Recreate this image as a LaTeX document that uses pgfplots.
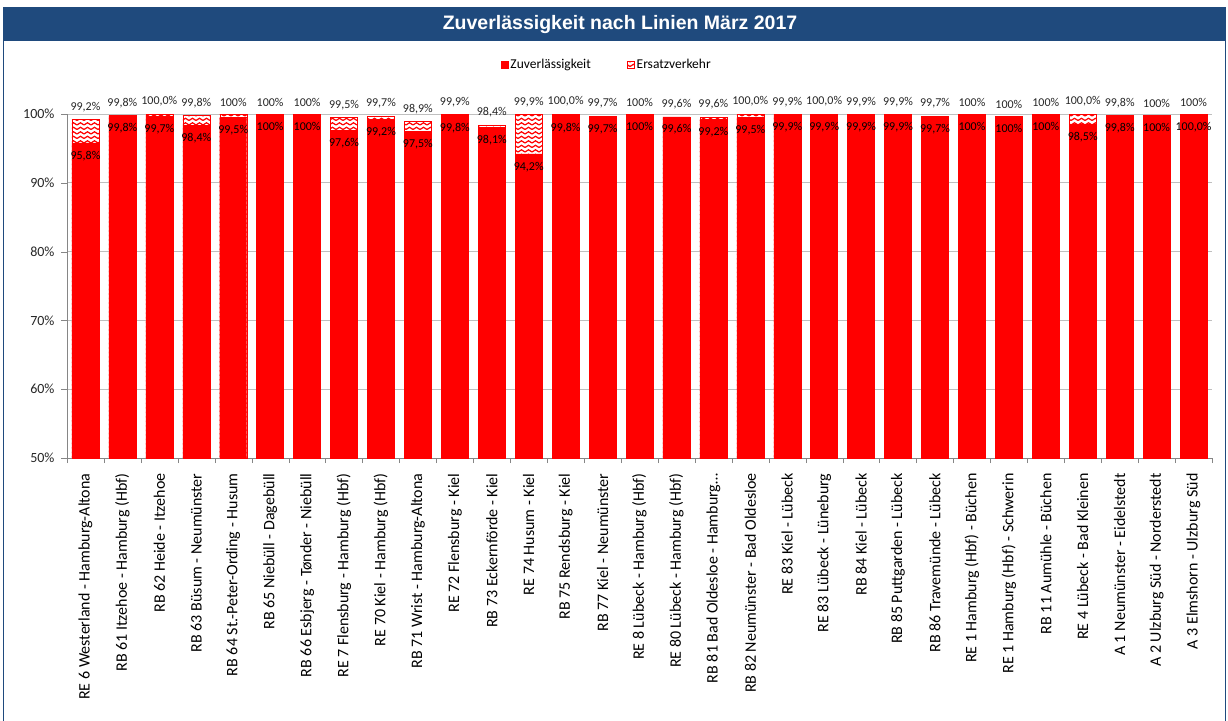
\documentclass[border=0pt]{standalone}
\usepackage{fontspec}
\setmainfont{Carlito}
\newfontfamily\titlefont{Liberation Sans}
\usepackage{pgfplots}
\pgfplotsset{compat=1.18}
\usepackage{pgfplotstable}
\usetikzlibrary{patterns}

\definecolor{bandblue}{HTML}{1F4A7D}
\definecolor{axgray}{HTML}{868686}
\definecolor{gridgray}{HTML}{BFBFBF}
\definecolor{barred}{HTML}{FF0000}

\pgfdeclarepatternformonly{zigzag}{\pgfqpoint{-1pt}{-1pt}}{\pgfqpoint{8pt}{5pt}}{\pgfqpoint{7pt}{4.5pt}}{%
  \pgfsetlinewidth{1.2pt}%
  \pgfpathmoveto{\pgfqpoint{0pt}{1pt}}%
  \pgfpathlineto{\pgfqpoint{3.5pt}{3.2pt}}%
  \pgfpathlineto{\pgfqpoint{7pt}{1pt}}%
  \pgfusepath{stroke}}

\pgfplotstableread{
x zuv tot zl tl
0 95.8 99.2 95,8\% 99,2\%
1 99.8 99.8 99,8\% 99,8\%
2 99.7 100 99,7\% 100,0\%
3 98.4 99.8 98,4\% 99,8\%
4 99.5 100 99,5\% 100\%
5 100 100 100\% 100\%
6 100 100 100\% 100\%
7 97.6 99.5 97,6\% 99,5\%
8 99.2 99.7 99,2\% 99,7\%
9 97.5 98.9 97,5\% 98,9\%
10 99.8 99.9 99,8\% 99,9\%
11 98.1 98.4 98,1\% 98,4\%
12 94.2 99.9 94,2\% 99,9\%
13 99.8 100 99,8\% 100,0\%
14 99.7 99.7 99,7\% 99,7\%
15 100 100 100\% 100\%
16 99.6 99.6 99,6\% 99,6\%
17 99.2 99.6 99,2\% 99,6\%
18 99.5 100 99,5\% 100,0\%
19 99.9 99.9 99,9\% 99,9\%
20 99.9 100 99,9\% 100,0\%
21 99.9 99.9 99,9\% 99,9\%
22 99.9 99.9 99,9\% 99,9\%
23 99.7 99.7 99,7\% 99,7\%
24 100 100 100\% 100\%
25 99.7 99.7 100\% 100\%
26 100 100 100\% 100\%
27 98.5 100 98,5\% 100,0\%
28 99.8 99.8 99,8\% 99,8\%
29 99.8 99.8 100\% 100\%
30 100 100 100,0\% 100\%
}\data

\begin{document}
\begin{tikzpicture}[x=1pt,y=1pt]
\useasboundingbox (0,0) rectangle (1228,720);
% frame and title band
\fill[bandblue] (3,679) rectangle (1226,712);
\draw[bandblue,line width=1.5pt] (3.5,-5) -- (3.5,712) -- (1225.5,712) -- (1225.5,-5);
\node[text=white,font=\titlefont\bfseries\fontsize{19.5}{22}\selectfont] at (620,695.5) {Zuverlässigkeit nach Linien März 2017};

\begin{axis}[
  at={(67pt,262pt)}, anchor=south west,
  scale only axis, width=1145pt, height=344pt,
  xmin=-0.5, xmax=30.5, ymin=50, ymax=100,
  axis x line*=bottom, axis y line*=left,
  axis line style={axgray},
  ytick={50,60,70,80,90,100},
  yticklabels={50\%,60\%,70\%,80\%,90\%,100\%},
  ymajorgrids, major grid style={gridgray,line width=0.9pt},
  tick align=outside,
  major tick length=6pt, minor tick length=5pt,
  xtick={0,...,30},
  minor xtick={-0.5,0.5,...,30.5},
  major x tick style={draw=none},
  minor x tick style={axgray},
  ytick style={axgray},
  yticklabel style={font=\fontsize{14}{16}\selectfont, text=black!85, xshift=-3pt},
  xticklabel style={rotate=90, anchor=east, font=\fontsize{16}{18}\selectfont, text=black},
  xticklabel shift=6pt,
  xticklabels={
    {RE 6 Westerland - Hamburg-Altona},
    {RB 61 Itzehoe - Hamburg (Hbf)},
    {RB 62 Heide - Itzehoe},
    {RB 63 Büsum - Neumünster},
    {RB 64 St.-Peter-Ording - Husum},
    {RB 65 Niebüll - Dagebüll},
    {RB 66 Esbjerg - Tønder - Niebüll},
    {RE 7 Flensburg - Hamburg (Hbf)},
    {RE 70 Kiel - Hamburg (Hbf)},
    {RB 71 Wrist - Hamburg-Altona},
    {RE 72 Flensburg - Kiel},
    {RB 73 Eckernförde - Kiel},
    {RE 74 Husum - Kiel},
    {RB 75 Rendsburg - Kiel},
    {RB 77 Kiel - Neumünster},
    {RE 8 Lübeck - Hamburg (Hbf)},
    {RE 80 Lübeck - Hamburg (Hbf)},
    {RB 81 Bad Oldesloe - Hamburg…},
    {RB 82 Neumünster - Bad Oldesloe},
    {RE 83 Kiel - Lübeck},
    {RE 83 Lübeck - Lüneburg},
    {RB 84 Kiel - Lübeck},
    {RB 85 Puttgarden - Lübeck},
    {RB 86 Travemünde - Lübeck},
    {RE 1 Hamburg (Hbf) - Büchen},
    {RE 1 Hamburg (Hbf) - Schwerin},
    {RB 11 Aumühle - Büchen},
    {RE 4 Lübeck - Bad Kleinen},
    {A 1 Neumünster - Eidelstedt},
    {A 2 Ulzburg Süd - Norderstedt},
    {A 3 Elmshorn - Ulzburg Süd}},
  legend style={at={(axis description cs:0.4715,1.1424)}, anchor=center,
    draw=none, fill=none, legend columns=2,
    font=\fontsize{13.5}{16}\selectfont,
    /tikz/every even column/.append style={column sep=34pt}},
  legend image code/.code={\draw[#1] (0pt,-3.5pt) rectangle (7pt,3.5pt);},
]
\addplot[ybar, bar width=27pt, bar shift=0pt, draw=barred, fill=white,
  postaction={pattern=zigzag, pattern color=barred}, forget plot]
  table[x=x,y=tot]{\data};
\addplot[ybar, bar width=27pt, bar shift=0pt, draw=barred, fill=barred, forget plot]
  table[x=x,y=zuv]{\data};
\addlegendimage{fill=barred, draw=barred}
\addlegendentry{Zuverlässigkeit}
\addlegendimage{fill=white, draw=barred, line width=0.8pt, postaction={pattern=zigzag, pattern color=barred}}
\addlegendentry{Ersatzverkehr}
\end{axis}

\begin{axis}[
  at={(67pt,262pt)}, anchor=south west,
  scale only axis, width=1145pt, height=344pt,
  xmin=-0.5, xmax=30.5, ymin=50, ymax=100,
  hide axis, clip=false,
]
\addplot[draw=none, mark=none, nodes near coords, point meta=explicit symbolic,
  nodes near coords style={anchor=south, font=\fontsize{12}{14}\selectfont, text=black!85, yshift=4pt}]
  table[x=x,y=tot,meta=tl]{\data};
\addplot[draw=none, mark=none, nodes near coords, point meta=explicit symbolic,
  nodes near coords style={anchor=north, font=\fontsize{12}{14}\selectfont, text=black, yshift=-4.5pt}]
  table[x=x,y=zuv,meta=zl]{\data};
\end{axis}
\end{tikzpicture}
\end{document}
